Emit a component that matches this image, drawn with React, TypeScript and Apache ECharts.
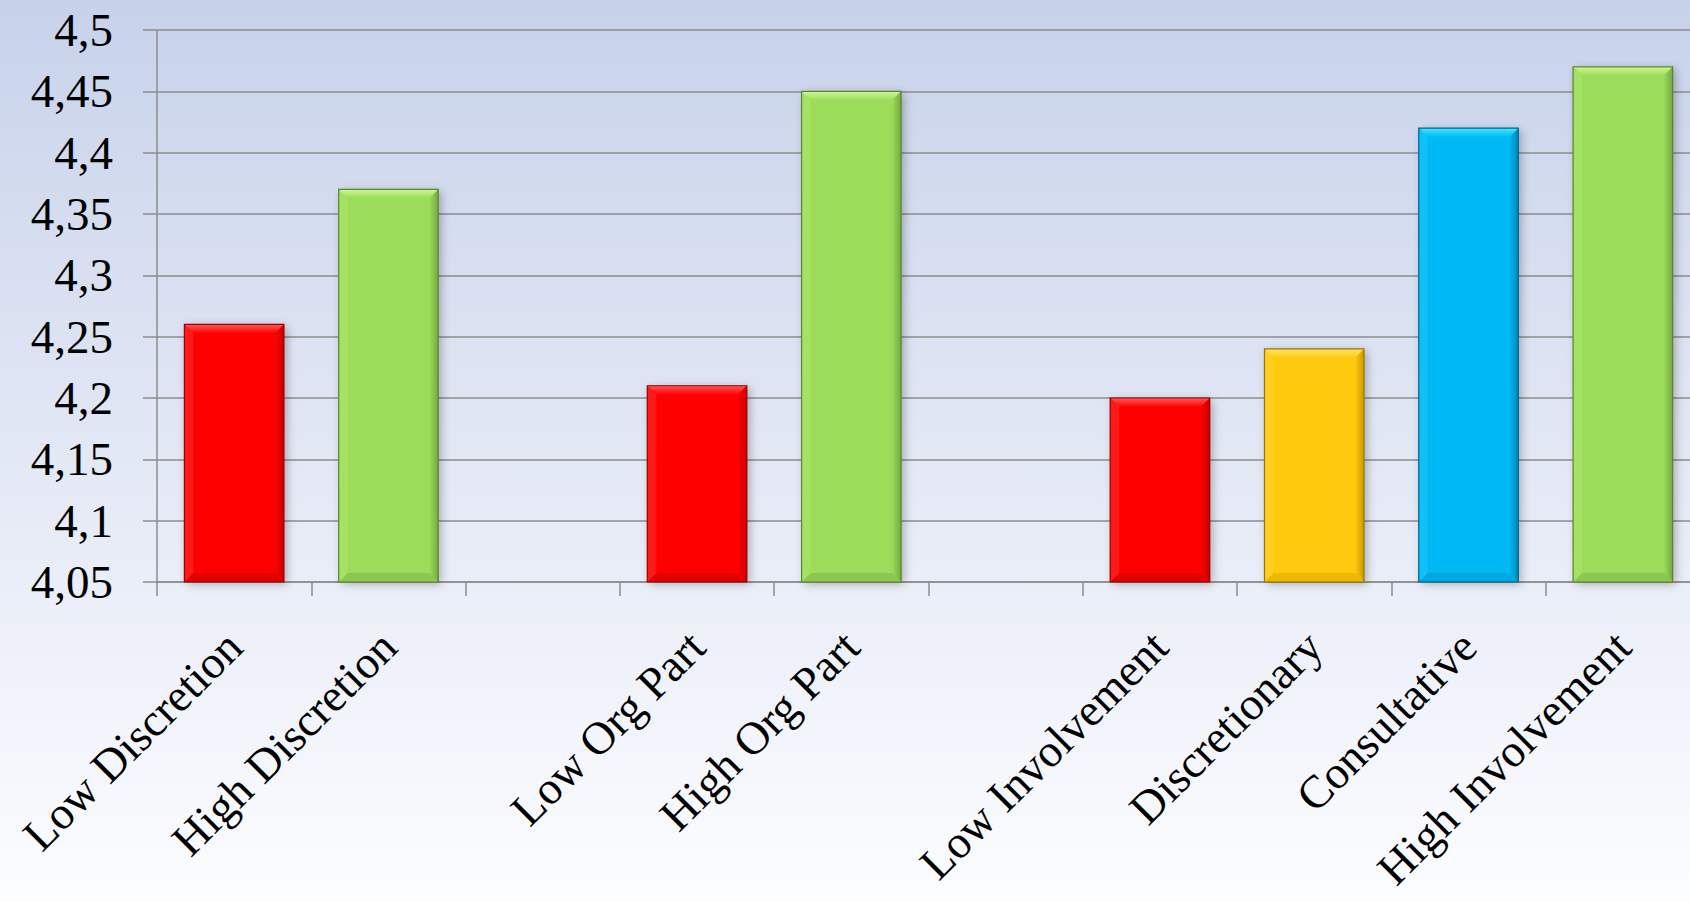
import React, { useEffect, useRef } from "react";
import * as echarts from "echarts";

const categories = [
  "Low Discretion",
  "High Discretion",
  " ",
  "Low Org Part",
  "High Org Part",
  "  ",
  "Low Involvement",
  "Discretionary",
  "Consultative",
  "High Involvement",
];
const values: (number | null)[] = [4.26, 4.37, null, 4.21, 4.45, null, 4.2, 4.24, 4.42, 4.47];
const barColorKeys = ["red", "green", "", "red", "green", "", "red", "yellow", "blue", "green"];

const yMin = 4.05;
const yMax = 4.5;
const yStep = 0.05;

const palette: Record<string, { body: string; top: string; right: string; bottom: string; left: string; border: string }> = {
  red: { body: "#FF0000", top: "#FF5A5A", right: "#C80000", bottom: "#E00000", left: "#FF1A1A", border: "#9A0000" },
  green: { body: "#9BDC5A", top: "#CFF795", right: "#74A843", bottom: "#8CC850", left: "#A4E264", border: "#5A8530" },
  yellow: { body: "#FFC90E", top: "#FFE46A", right: "#C99A00", bottom: "#EDB800", left: "#FFCE20", border: "#9A7500" },
  blue: { body: "#00B9F4", top: "#46E8FF", right: "#0087B8", bottom: "#00A8E0", left: "#10C0F8", border: "#00648A" },
};

const FONT = "'Liberation Serif', 'Times New Roman', serif";

export default function App() {
  const ref = useRef<HTMLDivElement>(null);
  useEffect(() => {
    if (!ref.current) return;
    const chart = echarts.init(ref.current, null, { renderer: "svg" });
    const data = values
      .map((v, i) => (v == null ? null : [i, v, barColorKeys[i]]))
      .filter((d) => d !== null) as any[];

    const option: any = {
      animation: false,
      backgroundColor: {
        type: "linear",
        x: 0,
        y: 0,
        x2: 0,
        y2: 1,
        colorStops: [
          { offset: 0, color: "#C7D2EA" },
          { offset: 0.6, color: "#E8ECF7" },
          { offset: 1, color: "#FCFDFF" },
        ],
      },
      grid: {
        left: 157,
        top: 30,
        width: 1543,
        height: 552,
        containLabel: false,
        outerBoundsMode: "none",
      },
      xAxis: {
        type: "category",
        data: categories,
        boundaryGap: true,
        axisLine: { show: true, lineStyle: { color: "#8C8C8C", width: 1.5 } },
        axisTick: { show: true, interval: 0, length: 14, lineStyle: { color: "#8C8C8C", width: 1.5 } },
        axisLabel: {
          interval: 0,
          rotate: 45,
          margin: 57,
          color: "#000",
          fontFamily: FONT,
          fontSize: 46,
        },
        splitLine: { show: false },
      },
      yAxis: {
        type: "value",
        min: yMin,
        max: yMax,
        interval: yStep,
        axisLine: { show: true, lineStyle: { color: "#8C8C8C", width: 1.5 } },
        axisTick: { show: true, length: 14, lineStyle: { color: "#8C8C8C", width: 1.5 } },
        axisLabel: {
          margin: 44,
          color: "#000",
          fontFamily: FONT,
          fontSize: 47,
          formatter: (v: number) => String(Number(v.toFixed(2))).replace(".", ","),
        },
        splitLine: { show: true, lineStyle: { color: "#8C8C8C", width: 1.5 } },
      },
      series: [
        {
          type: "custom",
          data,
          encode: { x: 0, y: 1 },
          renderItem: (params: any, api: any) => {
            const idx = api.value(0);
            const val = api.value(1);
            const key = barColorKeys[idx];
            const c = palette[key];
            const topPt = api.coord([idx, val]);
            const basePt = api.coord([idx, yMin]);
            const w = api.size([1, 0])[0] * 0.645;
            const l = topPt[0] - w / 2;
            const r = topPt[0] + w / 2;
            const y0 = topPt[1];
            const y1 = basePt[1];
            const b = 9;
            return {
              type: "group",
              children: [
                {
                  type: "rect",
                  shape: { x: l, y: y0, width: w, height: y1 - y0 },
                  style: {
                    fill: c.body,
                    shadowBlur: 10,
                    shadowColor: "rgba(0,0,0,0.28)",
                    shadowOffsetX: 3,
                    shadowOffsetY: 2,
                  },
                },
                {
                  type: "polygon",
                  shape: { points: [[l, y0], [r, y0], [r - b, y0 + b], [l + b, y0 + b]] },
                  style: {
                    fill: {
                      type: "linear",
                      x: 0,
                      y: 0,
                      x2: 0,
                      y2: 1,
                      colorStops: [
                        { offset: 0, color: c.top },
                        { offset: 1, color: c.body },
                      ],
                    },
                  },
                },
                {
                  type: "polygon",
                  shape: { points: [[r, y0], [r, y1], [r - b, y1 - b], [r - b, y0 + b]] },
                  style: {
                    fill: {
                      type: "linear",
                      x: 1,
                      y: 0,
                      x2: 0,
                      y2: 0,
                      colorStops: [
                        { offset: 0, color: c.right },
                        { offset: 1, color: c.body },
                      ],
                    },
                  },
                },
                {
                  type: "polygon",
                  shape: { points: [[l, y1], [r, y1], [r - b, y1 - b], [l + b, y1 - b]] },
                  style: { fill: c.bottom },
                },
                {
                  type: "polygon",
                  shape: { points: [[l, y0], [l + b, y0 + b], [l + b, y1 - b], [l, y1]] },
                  style: { fill: c.left },
                },
                {
                  type: "rect",
                  shape: { x: l, y: y0, width: w, height: y1 - y0 },
                  style: { fill: "none", stroke: c.border, lineWidth: 1.2 },
                },
              ],
            };
          },
        },
      ],
    };
    chart.setOption(option);
    return () => chart.dispose();
  }, []);
  return (
    <div
      ref={ref}
      style={{ position: "fixed", left: 0, top: 0, width: 1690, height: 902 }}
    />
  );
}
